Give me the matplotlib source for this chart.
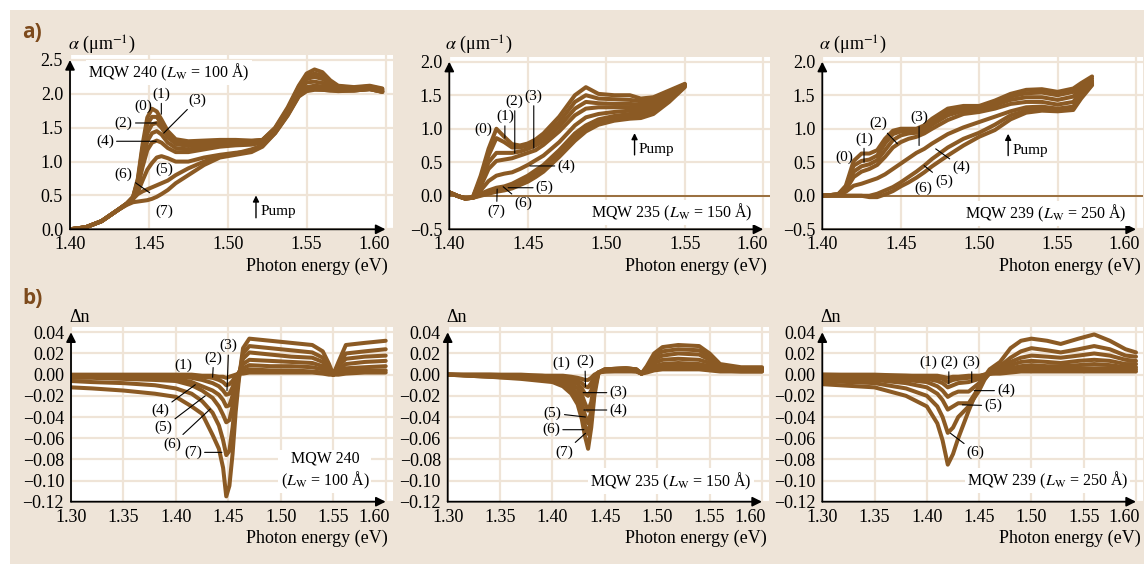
import matplotlib
matplotlib.use('Agg')
import matplotlib.pyplot as plt
from matplotlib.patches import Rectangle
from matplotlib.transforms import ScaledTranslation

# ---------------- data ----------------
a_xticks = [1.40, 1.45, 1.50, 1.55, 1.60]
a240_yticks = [0.0, 0.5, 1.0, 1.5, 2.0, 2.5]
a_yticks = [-0.5, 0.0, 0.5, 1.0, 1.5, 2.0]
n_xticks = [1.30, 1.35, 1.40, 1.45, 1.50, 1.55, 1.60]
n_yticks = [-0.12, -0.10, -0.08, -0.06, -0.04, -0.02, 0.00, 0.02, 0.04]

# a) absorption, MQW 240 (curves 0..7)
e_a240 = [1.400, 1.410, 1.420, 1.430, 1.436, 1.440, 1.443, 1.446, 1.449, 1.452, 1.455,
          1.458, 1.462, 1.467, 1.475, 1.485, 1.495, 1.505, 1.515, 1.522, 1.530, 1.538,
          1.545, 1.550, 1.555, 1.560, 1.565, 1.570, 1.580, 1.590, 1.598]
a240 = [
    [0.00, 0.03, 0.12, 0.28, 0.38, 0.48, 0.75, 1.25, 1.65, 1.78, 1.74, 1.62, 1.45, 1.33, 1.30, 1.31,
     1.32, 1.32, 1.31, 1.32, 1.50, 1.80, 2.12, 2.30, 2.36, 2.32, 2.20, 2.12, 2.10, 2.12, 2.08],
    [0.00, 0.03, 0.12, 0.28, 0.38, 0.48, 0.72, 1.20, 1.55, 1.66, 1.66, 1.56, 1.40, 1.30, 1.27, 1.28,
     1.29, 1.30, 1.30, 1.32, 1.49, 1.78, 2.10, 2.26, 2.30, 2.27, 2.18, 2.11, 2.09, 2.11, 2.07],
    [0.00, 0.03, 0.12, 0.28, 0.38, 0.47, 0.70, 1.12, 1.42, 1.55, 1.57, 1.50, 1.36, 1.26, 1.23, 1.25,
     1.27, 1.28, 1.29, 1.31, 1.48, 1.76, 2.07, 2.22, 2.25, 2.22, 2.15, 2.10, 2.08, 2.10, 2.06],
    [0.00, 0.03, 0.12, 0.28, 0.38, 0.47, 0.67, 1.02, 1.30, 1.42, 1.45, 1.40, 1.28, 1.20, 1.18, 1.21,
     1.24, 1.26, 1.27, 1.30, 1.47, 1.74, 2.04, 2.17, 2.18, 2.16, 2.12, 2.08, 2.07, 2.09, 2.05],
    [0.00, 0.03, 0.12, 0.28, 0.38, 0.46, 0.62, 0.92, 1.17, 1.28, 1.31, 1.28, 1.20, 1.14, 1.14, 1.18,
     1.22, 1.24, 1.25, 1.28, 1.45, 1.72, 2.00, 2.10, 2.12, 2.11, 2.09, 2.06, 2.06, 2.08, 2.04],
    [0.00, 0.03, 0.12, 0.28, 0.37, 0.45, 0.55, 0.72, 0.88, 0.98, 1.06, 1.08, 1.05, 1.00, 1.00, 1.06,
     1.10, 1.13, 1.15, 1.25, 1.43, 1.70, 1.98, 2.06, 2.08, 2.07, 2.06, 2.05, 2.05, 2.07, 2.03],
    [0.00, 0.03, 0.12, 0.28, 0.37, 0.45, 0.52, 0.56, 0.59, 0.62, 0.65, 0.68, 0.72, 0.80, 0.90, 1.00,
     1.08, 1.12, 1.18, 1.24, 1.42, 1.69, 1.97, 2.05, 2.07, 2.06, 2.05, 2.05, 2.05, 2.07, 2.03],
    [0.00, 0.03, 0.12, 0.28, 0.36, 0.40, 0.41, 0.42, 0.43, 0.45, 0.48, 0.52, 0.58, 0.68, 0.80, 0.95,
     1.06, 1.10, 1.14, 1.22, 1.42, 1.68, 1.96, 2.04, 2.06, 2.06, 2.05, 2.04, 2.05, 2.07, 2.03],
]

# a) absorption, MQW 235 (curves 0..7)
e_a235 = [1.400, 1.405, 1.410, 1.415, 1.420, 1.425, 1.430, 1.435, 1.440, 1.445, 1.450, 1.455,
          1.460, 1.470, 1.480, 1.487, 1.495, 1.505, 1.515, 1.522, 1.530, 1.540, 1.550]
a235 = [
    [0.05, 0.00, -0.04, -0.02, 0.30, 0.70, 1.00, 0.88, 0.77, 0.75, 0.78, 0.84, 0.93, 1.18, 1.50, 1.62, 1.52, 1.50, 1.50, 1.45, 1.47, 1.57, 1.67],
    [0.05, 0.00, -0.04, -0.02, 0.25, 0.60, 0.86, 0.80, 0.72, 0.72, 0.75, 0.80, 0.88, 1.10, 1.40, 1.50, 1.45, 1.44, 1.43, 1.41, 1.44, 1.55, 1.66],
    [0.05, 0.00, -0.04, -0.03, 0.20, 0.50, 0.64, 0.64, 0.64, 0.66, 0.70, 0.75, 0.82, 1.03, 1.30, 1.40, 1.38, 1.37, 1.37, 1.36, 1.40, 1.53, 1.66],
    [0.05, 0.00, -0.04, -0.03, 0.14, 0.40, 0.52, 0.54, 0.56, 0.60, 0.64, 0.68, 0.76, 0.96, 1.20, 1.30, 1.32, 1.32, 1.32, 1.31, 1.36, 1.50, 1.65],
    [0.05, 0.00, -0.04, -0.03, 0.08, 0.22, 0.30, 0.33, 0.35, 0.40, 0.46, 0.53, 0.60, 0.80, 1.05, 1.17, 1.22, 1.25, 1.27, 1.27, 1.32, 1.47, 1.65],
    [0.05, 0.00, -0.04, -0.03, 0.03, 0.08, 0.12, 0.14, 0.18, 0.24, 0.30, 0.38, 0.46, 0.68, 0.93, 1.05, 1.14, 1.19, 1.22, 1.22, 1.28, 1.44, 1.64],
    [0.05, 0.00, -0.04, -0.03, 0.01, 0.05, 0.08, 0.10, 0.14, 0.19, 0.25, 0.32, 0.40, 0.62, 0.87, 1.00, 1.10, 1.15, 1.18, 1.19, 1.25, 1.42, 1.63],
    [0.05, 0.00, -0.04, -0.03, 0.00, 0.03, 0.06, 0.08, 0.11, 0.16, 0.21, 0.28, 0.36, 0.58, 0.82, 0.96, 1.06, 1.12, 1.15, 1.16, 1.22, 1.40, 1.62],
]

# a) absorption, MQW 239 (curves 0..6)
e_a239 = [1.400, 1.410, 1.415, 1.420, 1.425, 1.430, 1.435, 1.440, 1.445, 1.450, 1.455, 1.460,
          1.465, 1.470, 1.480, 1.490, 1.500, 1.510, 1.520, 1.530, 1.540, 1.550, 1.560, 1.565, 1.572]
a239 = [
    [0.00, 0.02, 0.15, 0.52, 0.63, 0.63, 0.68, 0.85, 0.97, 1.00, 1.00, 1.00, 1.05, 1.15, 1.30, 1.34, 1.34, 1.42, 1.52, 1.58, 1.59, 1.55, 1.60, 1.68, 1.78],
    [0.00, 0.02, 0.13, 0.45, 0.52, 0.54, 0.60, 0.78, 0.92, 0.96, 0.97, 0.97, 1.01, 1.10, 1.25, 1.30, 1.31, 1.39, 1.48, 1.53, 1.54, 1.50, 1.55, 1.64, 1.75],
    [0.00, 0.02, 0.11, 0.36, 0.44, 0.47, 0.53, 0.68, 0.83, 0.90, 0.93, 0.94, 0.98, 1.06, 1.20, 1.27, 1.28, 1.35, 1.43, 1.47, 1.47, 1.43, 1.48, 1.60, 1.72],
    [0.00, 0.02, 0.09, 0.28, 0.36, 0.40, 0.46, 0.58, 0.72, 0.80, 0.85, 0.88, 0.93, 1.00, 1.13, 1.22, 1.25, 1.30, 1.37, 1.40, 1.40, 1.36, 1.40, 1.55, 1.70],
    [0.00, 0.02, 0.06, 0.15, 0.18, 0.22, 0.26, 0.32, 0.40, 0.48, 0.56, 0.64, 0.70, 0.78, 0.92, 1.02, 1.10, 1.18, 1.26, 1.32, 1.33, 1.30, 1.33, 1.50, 1.68],
    [0.00, 0.00, 0.00, 0.00, 0.00, 0.00, 0.03, 0.08, 0.13, 0.20, 0.28, 0.36, 0.45, 0.55, 0.72, 0.85, 0.94, 1.06, 1.20, 1.27, 1.29, 1.28, 1.30, 1.47, 1.66],
    [0.00, 0.00, 0.00, 0.00, 0.00, -0.02, -0.02, 0.02, 0.07, 0.14, 0.20, 0.27, 0.35, 0.44, 0.60, 0.75, 0.88, 0.98, 1.14, 1.24, 1.27, 1.26, 1.28, 1.45, 1.65],
]

# b) refractive index change, MQW 240 (curves 1..7)
e_n240 = [1.300, 1.320, 1.350, 1.380, 1.400, 1.415, 1.425, 1.435, 1.441, 1.445, 1.448, 1.451, 1.454,
          1.457, 1.460, 1.464, 1.470, 1.490, 1.510, 1.530, 1.540, 1.546, 1.550, 1.555, 1.562, 1.580, 1.600]
n240 = [
    [0.000, 0.000, 0.000, 0.000, 0.000, 0.000, -0.001, -0.001, -0.002, -0.002, -0.003, -0.002, -0.001, 0.000,
     0.001, 0.001, 0.002, 0.002, 0.002, 0.002, 0.001, 0.000, 0.000, 0.000, 0.001, 0.002, 0.002],
    [-0.001, -0.001, -0.001, -0.001, -0.001, -0.001, -0.002, -0.003, -0.005, -0.007, -0.010, -0.009, -0.006, -0.001,
     0.001, 0.003, 0.005, 0.004, 0.004, 0.003, 0.002, 0.001, 0.000, 0.002, 0.003, 0.004, 0.004],
    [-0.002, -0.002, -0.002, -0.002, -0.002, -0.003, -0.005, -0.008, -0.011, -0.015, -0.019, -0.018, -0.012, -0.003,
     0.002, 0.006, 0.009, 0.008, 0.008, 0.007, 0.005, 0.002, 0.000, 0.003, 0.006, 0.007, 0.008],
    [-0.002, -0.002, -0.003, -0.003, -0.004, -0.007, -0.011, -0.015, -0.019, -0.024, -0.030, -0.029, -0.020, -0.007,
     0.002, 0.010, 0.014, 0.013, 0.012, 0.011, 0.008, 0.003, 0.000, 0.005, 0.010, 0.012, 0.013],
    [-0.003, -0.003, -0.004, -0.005, -0.006, -0.010, -0.015, -0.022, -0.030, -0.038, -0.045, -0.043, -0.030, -0.012,
     0.000, 0.015, 0.021, 0.019, 0.017, 0.016, 0.012, 0.005, 0.000, 0.008, 0.015, 0.017, 0.018],
    [-0.006, -0.007, -0.008, -0.010, -0.013, -0.018, -0.025, -0.036, -0.048, -0.062, -0.076, -0.072, -0.050, -0.022,
     -0.003, 0.020, 0.027, 0.025, 0.023, 0.021, 0.016, 0.007, 0.000, 0.010, 0.020, 0.022, 0.024],
    [-0.012, -0.013, -0.015, -0.018, -0.021, -0.030, -0.037, -0.057, -0.070, -0.088, -0.115, -0.105, -0.075, -0.035,
     -0.005, 0.025, 0.034, 0.032, 0.030, 0.028, 0.022, 0.010, 0.000, 0.012, 0.028, 0.030, 0.032],
]

# b) refractive index change, MQW 235 (curves 1..7)
e_n235 = [1.300, 1.340, 1.370, 1.390, 1.400, 1.410, 1.418, 1.424, 1.428, 1.431, 1.434, 1.437, 1.440,
          1.444, 1.450, 1.470, 1.480, 1.485, 1.490, 1.497, 1.505, 1.520, 1.540, 1.550, 1.560, 1.580, 1.600]
n235 = [
    [0.000, 0.000, 0.000, -0.001, -0.001, -0.001, -0.002, -0.003, -0.004, -0.005, -0.005, -0.003, 0.000, 0.002,
     0.003, 0.003, 0.003, 0.001, 0.002, 0.004, 0.005, 0.005, 0.005, 0.004, 0.003, 0.003, 0.003],
    [0.000, 0.000, -0.001, -0.001, -0.002, -0.003, -0.004, -0.006, -0.008, -0.011, -0.012, -0.008, -0.002, 0.002,
     0.003, 0.004, 0.003, 0.001, 0.003, 0.006, 0.007, 0.008, 0.007, 0.006, 0.004, 0.003, 0.003],
    [0.000, -0.001, -0.001, -0.002, -0.003, -0.004, -0.006, -0.009, -0.013, -0.018, -0.020, -0.015, -0.005, 0.002,
     0.004, 0.005, 0.004, 0.001, 0.004, 0.008, 0.010, 0.011, 0.010, 0.008, 0.005, 0.004, 0.004],
    [0.000, -0.001, -0.002, -0.003, -0.004, -0.005, -0.009, -0.013, -0.019, -0.027, -0.034, -0.026, -0.008, 0.002,
     0.004, 0.005, 0.004, 0.001, 0.005, 0.011, 0.014, 0.015, 0.014, 0.011, 0.006, 0.005, 0.005],
    [0.000, -0.001, -0.002, -0.004, -0.005, -0.007, -0.012, -0.018, -0.027, -0.038, -0.046, -0.035, -0.012, 0.002,
     0.005, 0.006, 0.005, 0.001, 0.006, 0.014, 0.018, 0.020, 0.019, 0.014, 0.008, 0.006, 0.006],
    [0.000, -0.002, -0.003, -0.005, -0.006, -0.009, -0.015, -0.023, -0.034, -0.048, -0.056, -0.042, -0.015, 0.002,
     0.005, 0.006, 0.005, 0.001, 0.007, 0.017, 0.022, 0.024, 0.023, 0.017, 0.009, 0.006, 0.006],
    [0.000, -0.002, -0.004, -0.006, -0.007, -0.011, -0.018, -0.028, -0.042, -0.058, -0.070, -0.050, -0.020, 0.002,
     0.005, 0.006, 0.005, 0.001, 0.008, 0.020, 0.026, 0.028, 0.027, 0.020, 0.010, 0.007, 0.007],
]

# b) refractive index change, MQW 239 (curves 1..7)
e_n239 = [1.300, 1.350, 1.380, 1.400, 1.410, 1.415, 1.420, 1.425, 1.430, 1.440, 1.450, 1.455,
          1.460, 1.470, 1.480, 1.490, 1.500, 1.515, 1.528, 1.545, 1.560, 1.575, 1.590, 1.600]
n239 = [
    [0.000, 0.000, -0.001, -0.001, -0.001, -0.002, -0.003, -0.002, -0.002, -0.001, -0.001, 0.000,
     0.001, 0.001, 0.002, 0.003, 0.003, 0.003, 0.003, 0.003, 0.003, 0.003, 0.003, 0.003],
    [0.000, -0.001, -0.001, -0.002, -0.003, -0.004, -0.007, -0.005, -0.004, -0.003, -0.002, 0.000,
     0.001, 0.002, 0.004, 0.005, 0.006, 0.005, 0.005, 0.006, 0.006, 0.006, 0.005, 0.005],
    [-0.001, -0.002, -0.003, -0.004, -0.006, -0.008, -0.012, -0.010, -0.008, -0.007, -0.004, -0.001,
     0.001, 0.003, 0.006, 0.008, 0.009, 0.008, 0.008, 0.009, 0.010, 0.009, 0.007, 0.007],
    [-0.002, -0.003, -0.005, -0.007, -0.011, -0.015, -0.021, -0.018, -0.016, -0.016, -0.008, -0.002,
     0.001, 0.004, 0.009, 0.012, 0.013, 0.012, 0.011, 0.013, 0.014, 0.013, 0.010, 0.010],
    [-0.004, -0.005, -0.008, -0.012, -0.018, -0.024, -0.033, -0.030, -0.027, -0.027, -0.012, -0.004,
     0.001, 0.006, 0.012, 0.016, 0.018, 0.017, 0.016, 0.018, 0.020, 0.018, 0.014, 0.013],
    [-0.006, -0.008, -0.013, -0.020, -0.030, -0.040, -0.055, -0.050, -0.040, -0.030, -0.015, -0.005,
     0.002, 0.008, 0.016, 0.022, 0.025, 0.023, 0.021, 0.024, 0.027, 0.024, 0.018, 0.017],
    [-0.009, -0.012, -0.020, -0.030, -0.046, -0.062, -0.085, -0.075, -0.060, -0.034, -0.010, -0.002,
     0.005, 0.012, 0.025, 0.032, 0.034, 0.032, 0.029, 0.034, 0.038, 0.032, 0.024, 0.021],
]

# ---------------- styling ----------------
W, H = 1144, 564
plt.rcParams['font.family'] = ['Liberation Serif', 'DejaVu Serif']
plt.rcParams['mathtext.fontset'] = 'stix'
plt.rcParams['axes.unicode_minus'] = True

BROWN = '#8b5a24'
BEIGE = '#eee4d8'
GRID = '#efe4d7'
TICK_FS = 13
ANN_FS = 11

fig = plt.figure(figsize=(W / 100, H / 100), dpi=100)
fig.patch.set_facecolor('white')
fig.patches.append(Rectangle((10 / W, 0), 1 - 10 / W, 1 - 10 / H, transform=fig.transFigure,
                             facecolor=BEIGE, edgecolor='none', zorder=-10))


def fmt(v, nd):
    return f'{v:.{nd}f}'.replace('-', '\u2212')


def panel(px0, px1, py0, py1, xticks, yticks, xnd, ynd):
    xlo, xhi = xticks[0], xticks[-1]
    ylo, yhi = min(yticks), max(yticks)
    sx = (xhi - xlo) / (px1 - px0)
    sy = (yhi - ylo) / (py0 - py1)
    er, et = 7, 5
    ax = fig.add_axes([px0 / W, 1 - py0 / H, (px1 - px0 + er) / W, (py0 - py1 + et) / H])
    ax.set_xlim(xlo, xhi + er * sx)
    ax.set_ylim(ylo, yhi + et * sy)
    ax.set_facecolor('white')
    for s in ax.spines.values():
        s.set_visible(False)
    ax.set_xticks(xticks)
    ax.set_xticklabels([fmt(v, xnd) for v in xticks[:-1]] + [''])
    ax.set_yticks(yticks)
    ax.set_yticklabels([fmt(v, ynd) for v in yticks])
    ax.tick_params(length=0, labelsize=TICK_FS, pad=5)
    # last x label sits flush right (as in the reference)
    off = ScaledTranslation(4 / 100, -5 / 72 * 100 / 100, fig.dpi_scale_trans)
    ax.text(xhi, ylo, fmt(xhi, xnd), ha='right', va='top', fontsize=TICK_FS,
            transform=ax.transData + off, clip_on=False)
    ax.grid(True, color=GRID, lw=1.6, zorder=0)
    ax.set_axisbelow(True)
    ap = dict(arrowstyle='-|>', color='black', lw=1.3, mutation_scale=14, shrinkA=0, shrinkB=0)
    ax.annotate('', xy=(xhi, ylo), xytext=(xlo, ylo), arrowprops=ap, annotation_clip=False, zorder=6)
    ax.annotate('', xy=(xlo, yhi), xytext=(xlo, ylo), arrowprops=ap, annotation_clip=False, zorder=6)
    return ax


def draw(ax, e, curves):
    for ys in curves:
        ax.plot(e, ys, color=BROWN, lw=2.9, solid_capstyle='round', solid_joinstyle='round', zorder=3)


def lab(ax, text, xt, yt, xl=None, yl=None):
    if xl is None:
        ax.text(xt, yt, text, ha='center', va='center', fontsize=ANN_FS, zorder=7)
    else:
        ax.annotate(text, xy=(xl, yl), xytext=(xt, yt), ha='center', va='center', fontsize=ANN_FS,
                    arrowprops=dict(arrowstyle='-', color='black', lw=0.8, shrinkA=0, shrinkB=0),
                    zorder=7)


def pump(ax, x, y0, y1, xt, yt):
    ax.annotate('', xy=(x, y1), xytext=(x, y0),
                arrowprops=dict(arrowstyle='-|>', color='black', lw=1.0, mutation_scale=9,
                                shrinkA=0, shrinkB=0))
    ax.text(xt, yt, 'Pump', ha='left', va='center', fontsize=ANN_FS)


def mqw(ax, x, y, text, ha):
    ax.text(x, y, text, ha=ha, va='center', fontsize=11.5, zorder=7,
            bbox=dict(facecolor='white', edgecolor='none', pad=1.5))


# ---------------- panel a) MQW 240 ----------------
ax = panel(70, 385.5, 229.3, 60, a_xticks, a240_yticks, 2, 1)
draw(ax, e_a240, a240)
lab(ax, '(0)', 1.4463, 1.81)
lab(ax, '(1)', 1.4579, 2.00, 1.4579, 1.70)
lab(ax, '(2)', 1.4341, 1.57, 1.4547, 1.57)
lab(ax, '(3)', 1.4804, 1.91, 1.4594, 1.42)
lab(ax, '(4)', 1.4221, 1.30, 1.4547, 1.30)
lab(ax, '(5)', 1.4596, 0.88)
lab(ax, '(6)', 1.4341, 0.81, 1.4505, 0.54)
lab(ax, '(7)', 1.4596, 0.27)
pump(ax, 1.5179, 0.17, 0.50, 1.5205, 0.27)
mqw(ax, 1.4116, 2.32, r'MQW 240 ($L_\mathrm{W}$ = 100 Å)', 'left')

# ---------------- panel a) MQW 235 ----------------
ax = panel(449.3, 763.3, 229.3, 61.7, a_xticks, a_yticks, 2, 1)
ax.axhline(0, color=BROWN, lw=1.2, zorder=2)
draw(ax, e_a235, a235)
lab(ax, '(0)', 1.4216, 0.985)
lab(ax, '(1)', 1.4354, 1.185, 1.4354, 0.86)
lab(ax, '(2)', 1.4417, 1.41, 1.4417, 0.635)
lab(ax, '(3)', 1.4538, 1.485, 1.4538, 0.71)
lab(ax, '(4)', 1.4746, 0.445, 1.4513, 0.445)
lab(ax, '(5)', 1.4608, 0.12, 1.4375, 0.12)
lab(ax, '(6)', 1.4470, -0.115, 1.4343, 0.135)
lab(ax, '(7)', 1.4301, -0.225, 1.4305, 0.10)
pump(ax, 1.5180, 0.61, 0.935, 1.5205, 0.685)
mqw(ax, 1.5932, -0.25, r'MQW 235 ($L_\mathrm{W}$ = 150 Å)', 'right')

# ---------------- panel a) MQW 239 ----------------
ax = panel(822.3, 1136, 229.3, 61.7, a_xticks, a_yticks, 2, 1)
ax.axhline(0, color=BROWN, lw=1.2, zorder=2)
draw(ax, e_a239, a239)
lab(ax, '(0)', 1.4138, 0.575)
lab(ax, '(1)', 1.4266, 0.85, 1.4266, 0.50)
lab(ax, '(2)', 1.4357, 1.075, 1.4479, 0.775)
lab(ax, '(3)', 1.4617, 1.175, 1.4617, 0.75)
lab(ax, '(4)', 1.4887, 0.425, 1.4723, 0.70)
lab(ax, '(5)', 1.4777, 0.21, 1.4649, 0.45)
lab(ax, '(6)', 1.4645, 0.11)
pump(ax, 1.5185, 0.60, 0.925, 1.5215, 0.675)
mqw(ax, 1.5943, -0.26, r'MQW 239 ($L_\mathrm{W}$ = 250 Å)', 'right')

# ---------------- panel b) MQW 240 ----------------
ax = panel(71, 385.7, 501.7, 332.3, n_xticks, n_yticks, 2, 2)
draw(ax, e_n240, n240)
lab(ax, '(1)', 1.4073, 0.0085)
lab(ax, '(2)', 1.4360, 0.0157, 1.4350, -0.0025)
lab(ax, '(3)', 1.4503, 0.0274, 1.4487, -0.015)
lab(ax, '(4)', 1.3850, -0.034, 1.4185, -0.0095)
lab(ax, '(5)', 1.3880, -0.050, 1.4280, -0.020)
lab(ax, '(6)', 1.3970, -0.0655, 1.4328, -0.0324)
lab(ax, '(7)', 1.4162, -0.0734, 1.4439, -0.0734)
mqw(ax, 1.5420, -0.091, 'MQW 240\n' + r'($L_\mathrm{W}$ = 100 Å)', 'center')

# ---------------- panel b) MQW 235 ----------------
ax = panel(447.7, 762, 501.7, 332.3, n_xticks, n_yticks, 2, 2)
draw(ax, e_n235, n235)
lab(ax, '(1)', 1.4084, 0.0107)
lab(ax, '(2)', 1.4310, 0.0123, 1.4315, -0.0113)
lab(ax, '(3)', 1.4630, -0.017, 1.4293, -0.017)
lab(ax, '(4)', 1.4630, -0.0334, 1.4300, -0.0334)
lab(ax, '(5)', 1.4003, -0.0365, 1.4315, -0.040)
lab(ax, '(6)', 1.3987, -0.052, 1.4300, -0.052)
lab(ax, '(7)', 1.4116, -0.073, 1.4315, -0.0554)
mqw(ax, 1.5900, -0.1005, r'MQW 235 ($L_\mathrm{W}$ = 150 Å)', 'right')

# ---------------- panel b) MQW 239 ----------------
ax = panel(822.3, 1136, 501.7, 332.3, n_xticks, n_yticks, 2, 2)
draw(ax, e_n239, n239)
lab(ax, '(1)', 1.4016, 0.0117)
lab(ax, '(2)', 1.4210, 0.0117, 1.4210, -0.0088)
lab(ax, '(3)', 1.4429, 0.0117, 1.4429, -0.0072)
lab(ax, '(4)', 1.4758, -0.0151, 1.4452, -0.0151)
lab(ax, '(5)', 1.4635, -0.0293, 1.4339, -0.0285)
lab(ax, '(6)', 1.4468, -0.0734, 1.4226, -0.0554)
mqw(ax, 1.5926, -0.100, r'MQW 239 ($L_\mathrm{W}$ = 250 Å)', 'right')

# ---------------- figure texts ----------------
def ftext(px, py, s, **kw):
    fig.text(px / W, 1 - py / H, s, **kw)

for xr, yy in [(388, 266), (767, 266), (1141, 266), (388, 538), (767, 538), (1141, 538)]:
    ftext(xr, yy, 'Photon energy (eV)', ha='right', va='center', fontsize=TICK_FS)
for xl in (68, 445, 819):
    ftext(xl, 45, r'$\alpha$ (μm$^{-1}$)', ha='left', va='center', fontsize=TICK_FS)
    ftext(xl + 1, 317, 'Δn', ha='left', va='center', fontsize=TICK_FS)
ftext(22, 33, 'a)', ha='left', va='center', fontsize=15, fontweight='bold', color='#7d4a1c',
      family=['Open Sans', 'DejaVu Sans'])
ftext(22, 298, 'b)', ha='left', va='center', fontsize=15, fontweight='bold', color='#7d4a1c',
      family=['Open Sans', 'DejaVu Sans'])

fig.savefig('out.png', dpi=100, facecolor=fig.get_facecolor())
